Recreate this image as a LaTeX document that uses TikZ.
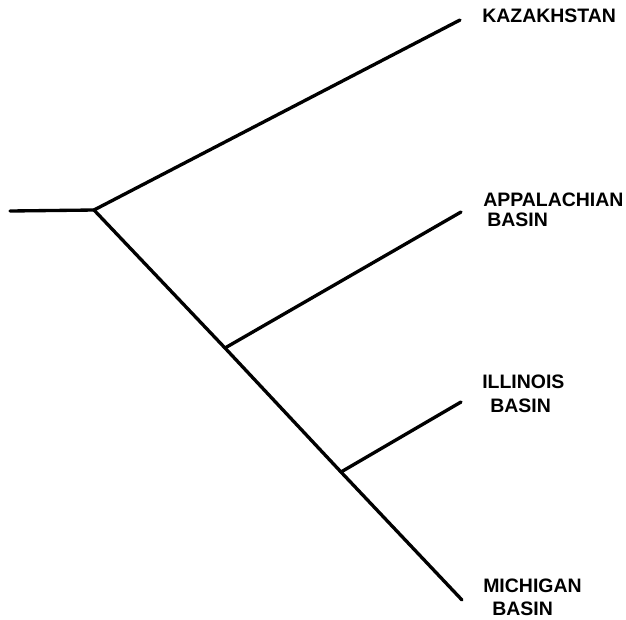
\documentclass[tikz,border=0pt]{standalone}
\usepackage{fontspec}
\setmainfont{Liberation Sans}
\begin{document}
\begin{tikzpicture}[x=0.75pt,y=-0.75pt,
  branch/.style={line width=2.5pt,line cap=round,line join=round},
  taxon/.style={anchor=base west,inner sep=0pt,font=\fontsize{14.6}{17}\selectfont\bfseries}]
\useasboundingbox (0,0) rectangle (626,619);
% internal nodes and leaf tips
\coordinate (stem) at (10,211);
\coordinate (root) at (94,210);
\coordinate (n1) at (225,348);
\coordinate (n2) at (341,472);
\coordinate (kzTip) at (460,20);
\coordinate (apTip) at (461,212);
\coordinate (ilTip) at (461,402);
\coordinate (miTip) at (462,600);
% branches
\draw[branch] (stem) -- (root);
\draw[branch] (root) -- (kzTip);
\draw[branch] (root) -- (n1) -- (n2) -- (miTip);
\draw[branch] (n1) -- (apTip);
\draw[branch] (n2) -- (ilTip);
% taxon labels
\node[taxon] (kz) at (482,22) {KAZAKHSTAN};
\node[taxon] (ap1) at (483,206) {APPALACHIAN};
\node[taxon] (ap2) at (487,226) {BASIN};
\node[taxon] (il1) at (482,388) {ILLINOIS};
\node[taxon] (il2) at (490,412) {BASIN};
\node[taxon] (mi1) at (483,592) {MICHIGAN};
\node[taxon] (mi2) at (492,615) {BASIN};
\end{tikzpicture}
\end{document}
